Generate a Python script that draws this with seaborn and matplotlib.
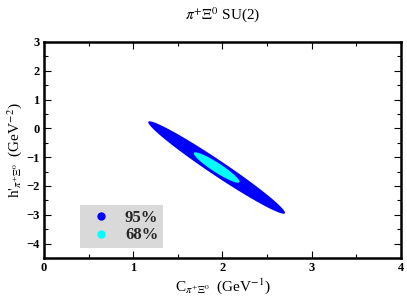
import numpy as np
import matplotlib
matplotlib.use("Agg")
import matplotlib.pyplot as plt
import seaborn as sns
from matplotlib.lines import Line2D

# ellipse parameters (data units)
center = [1.935, -1.36]
major_95 = [0.765, -1.59]
minor_95 = [0.048, 0.22]
major_68 = [0.254, -0.51]
minor_68 = [0.029, 0.135]
levels = ["95%", "68%"]
colors = ["#0000ff", "#00ffff"]

x_ticks = [0, 1, 2, 3, 4]
y_ticks = [-4, -3, -2, -1, 0, 1, 2, 3]

sns.set_style("ticks")
plt.rcParams['font.family'] = ['Liberation Serif', 'DejaVu Serif']
plt.rcParams['mathtext.fontset'] = 'stix'

fig = plt.figure(figsize=(4.07, 3.02), dpi=100)
ax = fig.add_axes([0.108, 0.146, 0.877, 0.715])

t = np.linspace(0, 2 * np.pi, 300)
for major, minor, col in [(major_95, minor_95, colors[0]), (major_68, minor_68, colors[1])]:
    xs = center[0] + major[0] * np.cos(t) + minor[0] * np.sin(t)
    ys = center[1] + major[1] * np.cos(t) + minor[1] * np.sin(t)
    ax.fill(xs, ys, color=col, lw=0, zorder=3)

ax.set_xlim(0, 4)
ax.set_ylim(-4.5, 3)
ax.set_xticks(x_ticks)
ax.set_yticks(y_ticks)
ax.set_xticks(np.arange(0.5, 4, 1), minor=True)
ax.set_yticks(np.arange(-4.5, 3, 1), minor=True)
ax.tick_params(which='both', direction='in', top=True, right=True, width=0.8, color='black')
ax.tick_params(which='major', length=5, labelsize=9, pad=3, labelcolor='black')
ax.tick_params(which='minor', length=3)
for lab in ax.get_xticklabels() + ax.get_yticklabels():
    lab.set_fontweight('bold')
for s in ax.spines.values():
    s.set_linewidth(1.8)
    s.set_color('black')

ax.set_title(r"$\pi^{+}\Xi^{0}$ SU(2)", fontsize=11, pad=17, color='black')
ax.set_xlabel(r"C$_{\pi^{+}\Xi^{0}}$  (GeV$^{-1}$)", fontsize=11, labelpad=2, color='black')
ax.set_ylabel(r"h$'_{\pi^{+}\Xi^{0}}$  (GeV$^{-2}$)", fontsize=11, labelpad=2, color='black')

handles = [Line2D([], [], marker='o', ls='', color=c, markersize=5) for c in colors]
leg = ax.legend(handles, levels, loc='lower left', bbox_to_anchor=(0.10, 0.046),
                frameon=True, fancybox=False, facecolor='#d9d9d9', edgecolor='none',
                framealpha=1, prop={'weight': 'bold', 'size': 12},
                handletextpad=0.45, borderpad=0.27, labelspacing=0.1, handlelength=2.0,
                borderaxespad=0)

fig.savefig("out.png", dpi=100)
